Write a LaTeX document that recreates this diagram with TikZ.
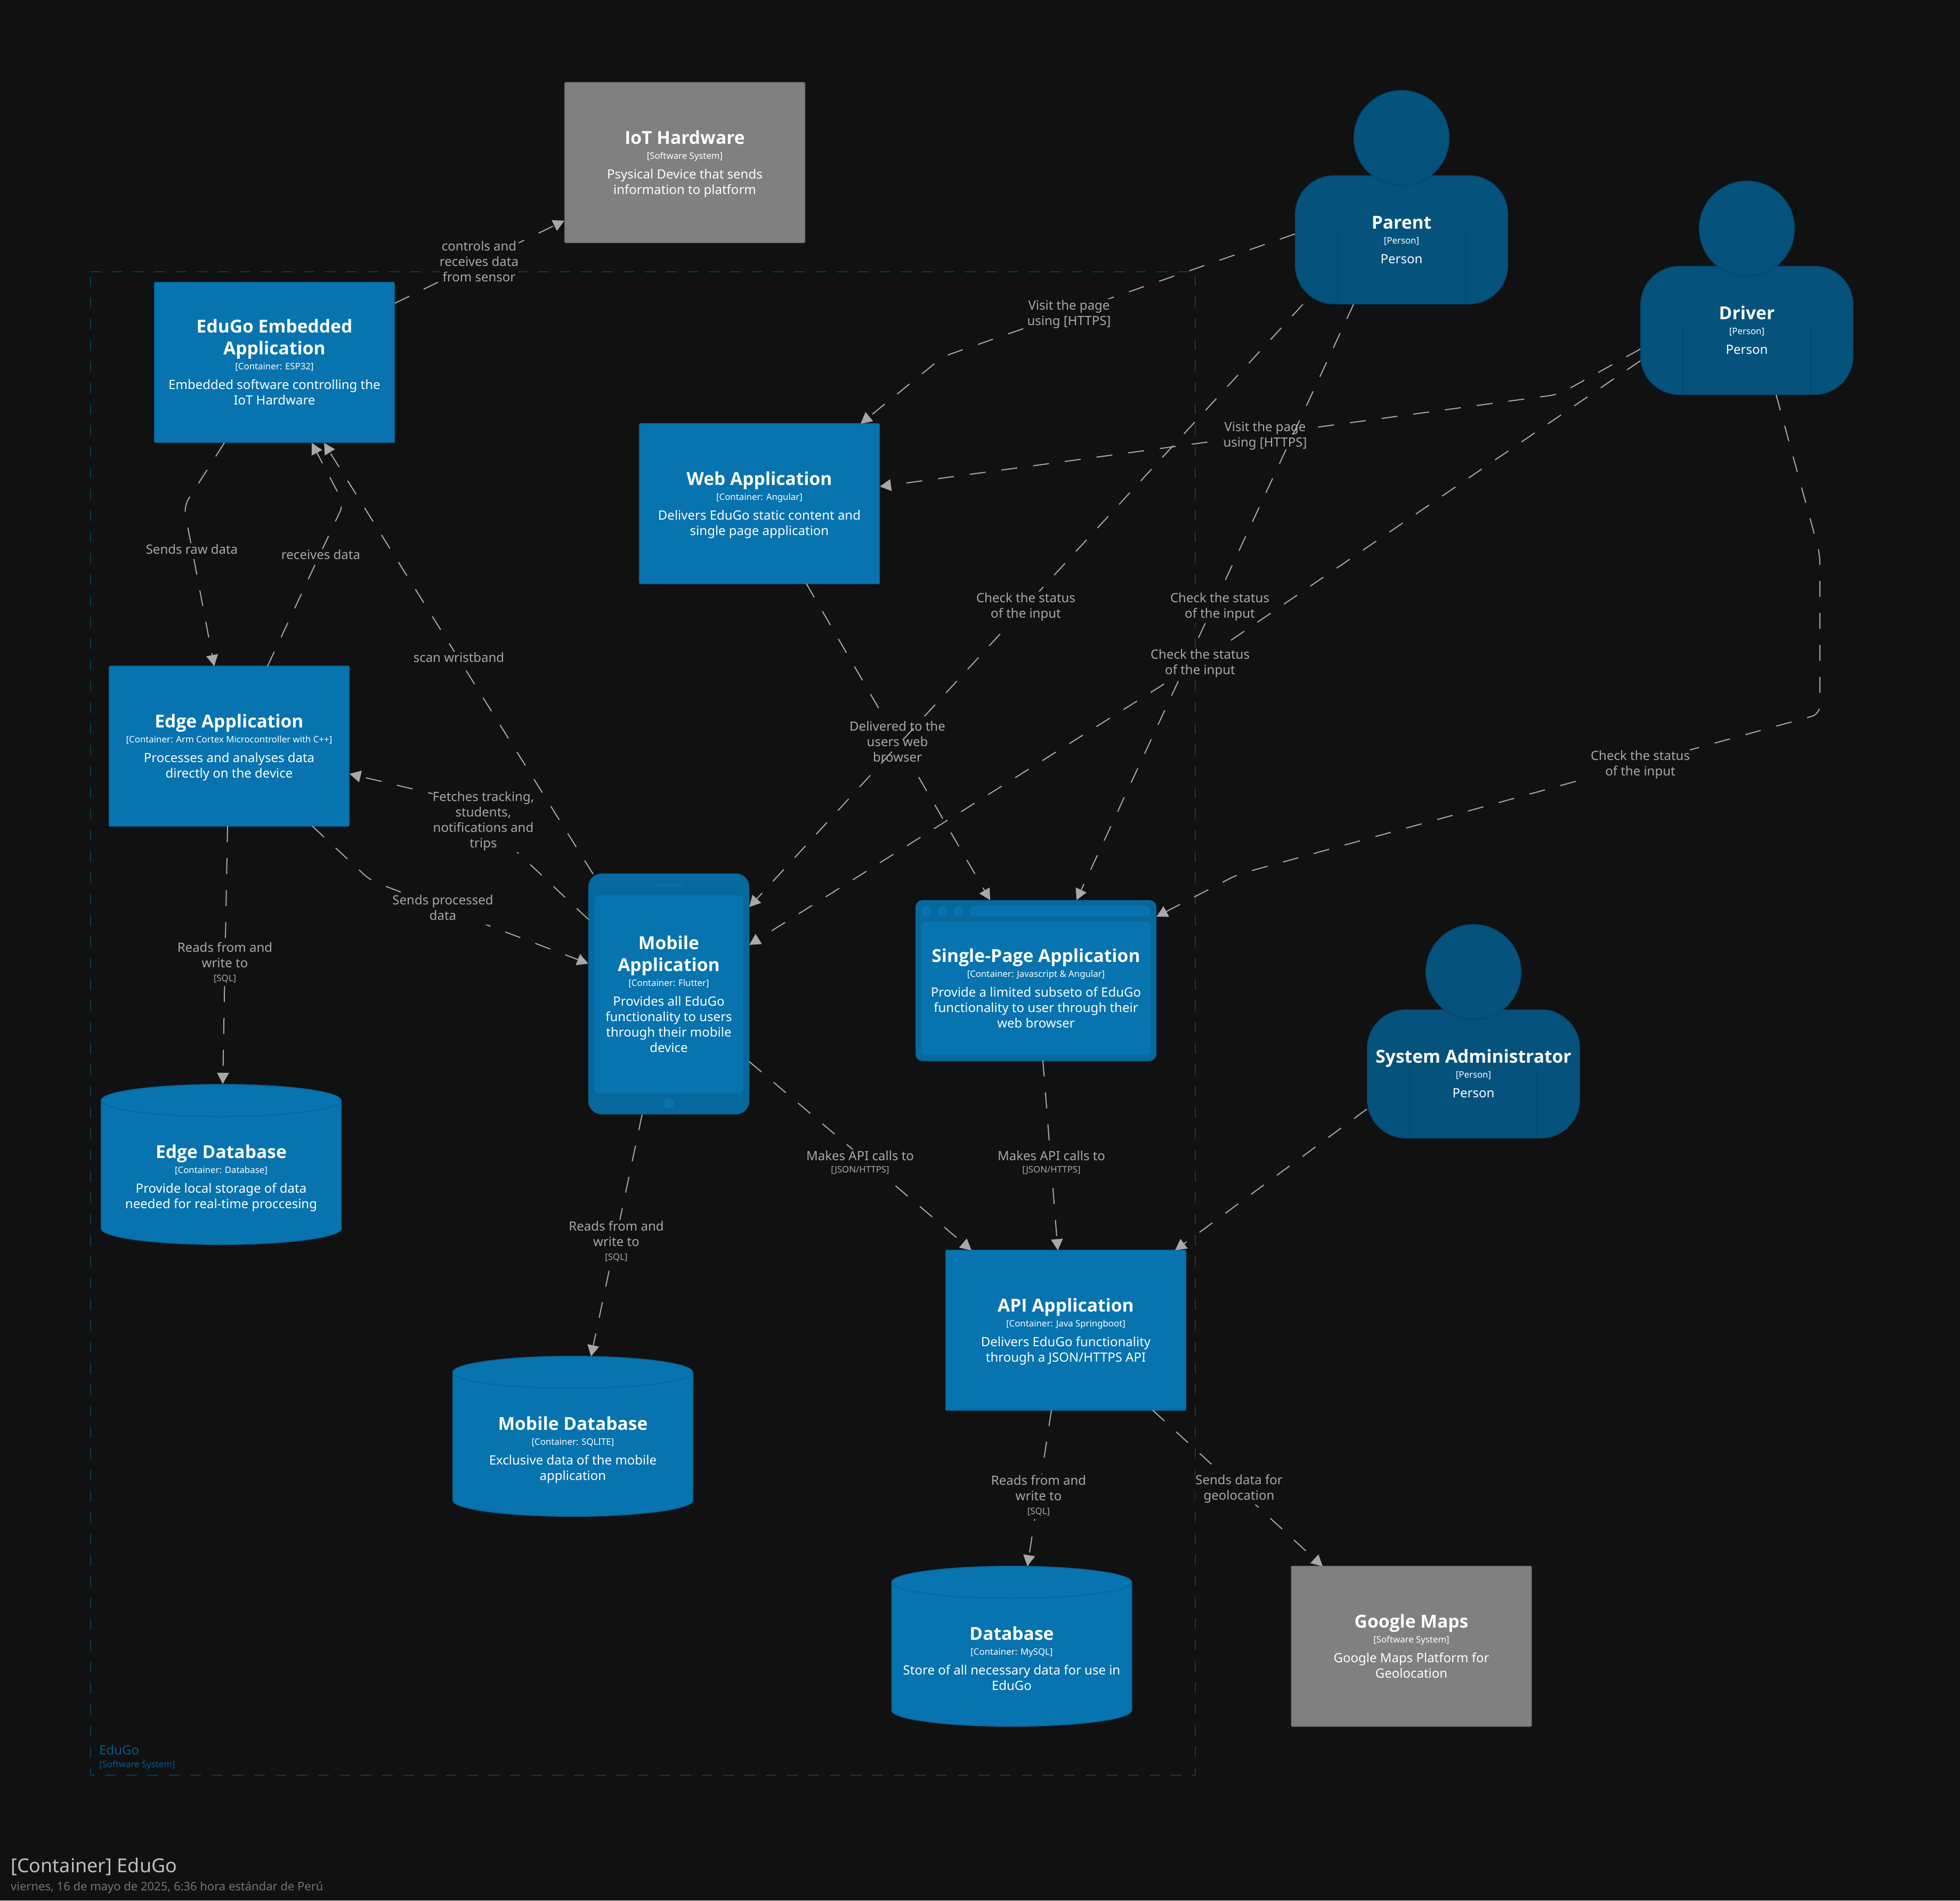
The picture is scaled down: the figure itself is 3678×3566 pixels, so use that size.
\documentclass[tikz,border=0pt]{standalone}
\usepackage{fontspec}
\setmainfont{Noto Sans}
\newfontfamily\namefam{Open Sans}
\usetikzlibrary{arrows.meta,calc}
\definecolor{bgc}{HTML}{111111}
\definecolor{contc}{HTML}{0773AF}
\definecolor{contd}{HTML}{06689D}
\definecolor{persc}{HTML}{05527D}
\definecolor{persd}{HTML}{044A70}
\definecolor{grayc}{HTML}{808080}
\definecolor{grayd}{HTML}{737373}
\definecolor{edgec}{HTML}{A8A8A8}
\definecolor{boundc}{HTML}{0A3A57}
\definecolor{boundt}{HTML}{065A8A}
\newcommand{\nmf}{\namefam\fontsize{33.6}{41}\selectfont\bfseries}
\newcommand{\tyf}{\fontsize{16.8}{29}\selectfont}
\newcommand{\dsf}{\fontsize{24}{29}\selectfont}
\newcommand{\cont}[3]{{\nmf\vrule height 30pt depth 0pt width 0pt #1\par}\vspace{-1pt}{\tyf #2\par}\vspace{8pt}{\dsf #3\vrule height 0pt depth 6pt width 0pt\par}}
\newcommand{\lst}{\vrule height 20pt depth 9pt width 0pt}
\newcommand{\tech}[1]{{\fontsize{16.8}{24}\selectfont #1}}
\tikzset{
  box/.style={rectangle,draw=contd,fill=contc,line width=2pt,minimum width=450pt,minimum height=300pt,
    text width=440pt,inner sep=0pt,outer sep=0pt,align=flush center,text=white,rounded corners=2pt},
  graybox/.style={box,draw=grayd,fill=grayc},
  anchorbox/.style={rectangle,minimum width=452pt,minimum height=302pt,inner sep=0pt,outer sep=0pt},
  boxtext/.style={text width=440pt,inner sep=0pt,outer sep=0pt,align=flush center,text=white},
  dbshape/.style={draw=contd,fill=contc,line width=2pt},
  persbody/.style={rectangle,draw=persd,fill=persc,line width=2pt,minimum width=398pt,minimum height=240pt,
    text width=390pt,inner sep=0pt,outer sep=0pt,align=flush center,text=white,rounded corners=72pt},
  pershead/.style={circle,draw=persd,fill=persc,line width=2pt,minimum size=178pt,inner sep=0pt,outer sep=0pt},
  persline/.style={draw=persd,line width=1.5pt},
  devouter/.style={rectangle,draw=contd,fill=contd,line width=2pt,inner sep=0pt,outer sep=0pt},
  devscreen/.style={rectangle,fill=contc,inner sep=0pt,outer sep=0pt,rounded corners=8pt},
  devdot/.style={circle,fill=contc,minimum size=20pt,inner sep=0pt,outer sep=0pt},
  devbar/.style={rectangle,fill=contc,inner sep=0pt,outer sep=0pt,rounded corners=9pt},
  rel/.style={draw=edgec,line width=2pt,dash pattern=on 30pt off 30pt,rounded corners=16pt,
    -{Triangle[length=21pt,width=22pt,fill=edgec]}},
  lbl/.style={fill=bgc,text=edgec,inner sep=0pt,outer sep=0pt,align=center,yshift=-3pt,font=\fontsize{24}{29}\selectfont},
  boundary/.style={draw=boundc,line width=2pt,dash pattern=on 20pt off 20pt},
}
\newcommand{\personshape}[4]{%
  \node[persbody] (#1) at (#2,#3) {\cont{#4}{[Person]}{Person}};
  \draw[persline] ($(#1)+(-120,-14)$) -- ($(#1)+(-120,121)$);
  \draw[persline] ($(#1)+(120,-14)$) -- ($(#1)+(120,121)$);
  \node[pershead] (#1-head) at ($(#1)+(0,-191)$) {};
}
\newcommand{\dbnode}[6]{%
  \begin{scope}[shift={(#2,#3)}]
    \path[dbshape] (-225,-120) .. controls (-225,-136.6) and (-124,-150) .. (0,-150)
      .. controls (124,-150) and (225,-136.6) .. (225,-120) -- (225,120)
      .. controls (225,136.6) and (124,150) .. (0,150)
      .. controls (-124,150) and (-225,136.6) .. (-225,120) -- cycle;
    \draw[draw=contd,line width=2pt] (-225,-120) .. controls (-225,-103.4) and (-124,-90) .. (0,-90)
      .. controls (124,-90) and (225,-103.4) .. (225,-120);
  \end{scope}
  \node[anchorbox] (#1) at (#2,#3) {};
  \node[boxtext] (#1-text) at ($(#1)+(0,23)$) {\cont{#4}{#5}{#6}};
}
\begin{document}
\begin{tikzpicture}[x=1pt,y=-1pt]
\useasboundingbox (0,0) rectangle (3678,3566);
\fill[bgc] (0,0) rectangle (3678,3566);

% boundary
\draw[boundary] (170,510) -- (2243,510) -- (2243,3331) -- (170,3331) -- cycle;
\node[anchor=base west,inner sep=0pt,text=boundt,font=\fontsize{24}{29}\selectfont] (bname) at (186,3292) {EduGo};
\node[anchor=base west,inner sep=0pt,text=boundt,font=\fontsize{16.8}{22}\selectfont] (btype) at (186,3316) {[Software System]};

% title
\node[anchor=base west,inner sep=0pt,text=black!25!white,font=\fontsize{36}{40}\selectfont] (title) at (20,3513) {[Container] EduGo};
\node[anchor=base west,inner sep=0pt,text=black!55!white,font=\fontsize{22}{28}\selectfont] (date) at (20,3547) {viernes, 16 de mayo de 2025, 6:36 hora estándar de Perú};

% plain boxes
\node[graybox] (iot) at (1285,305) {\cont{IoT Hardware}{[Software System]}{Psysical Device that sends\\information to platform}};
\node[box] (embedded) at (515,680) {\cont{EduGo Embedded\\Application}{[Container: ESP32]}{Embedded software controlling the\\IoT Hardware}};
\node[box] (web) at (1425,945) {\cont{Web Application}{[Container: Angular]}{Delivers EduGo static content and\\single page application}};
\node[box] (edge) at (430,1400) {\cont{Edge Application}{[Container: Arm Cortex Microcontroller with C++]}{Processes and analyses data\\directly on the device}};
\node[box] (api) at (2000,2496) {\cont{API Application}{[Container: Java Springboot]}{Delivers EduGo functionality\\through a JSON/HTTPS API}};
\node[graybox] (gmaps) at (2648.5,3089) {\cont{Google Maps}{[Software System]}{Google Maps Platform for\\Geolocation}};

% databases
\dbnode{edgedb}{415}{2185}{Edge Database}{[Container: Database]}{Provide local storage of data\\needed for real-time proccesing}
\dbnode{mobiledb}{1075}{2695}{Mobile Database}{[Container: SQLITE]}{Exclusive data of the mobile\\application}
\dbnode{db}{1898.5}{3089}{Database}{[Container: MySQL]}{Store of all necessary data for use in\\EduGo}

% mobile device
\node[devouter,minimum width=300pt,minimum height=450pt,rounded corners=24pt] (mobile) at (1255,1865) {};
\node[devscreen,minimum width=280pt,minimum height=371pt] (mobile-screen) at (1255,1865.5) {};
\node[boxtext,text width=270pt] (mobile-text) at (1255,1865.5)
  {\cont{Mobile\\Application}{[Container: Flutter]}{Provides all EduGo\\functionality to users\\through their mobile\\device}};
\node[devbar,minimum width=50pt,minimum height=3pt,rounded corners=0pt] (mobile-speaker) at (1255,1660) {};
\node[devdot] (mobile-button) at (1255,2070) {};

% browser window
\node[devouter,minimum width=450pt,minimum height=300pt,rounded corners=12pt] (spa) at (1944,1840) {};
\node[devscreen,minimum width=430pt,minimum height=250pt] (spa-screen) at (1944,1855) {};
\node[boxtext,text width=425pt] (spa-text) at (1944,1855)
  {\cont{Single-Page Application}{[Container: Javascript \& Angular]}{Provide a limited subseto of EduGo\\functionality to user through their\\web browser}};
\node[devdot] (spa-dot1) at (1739,1710) {};
\node[devdot] (spa-dot2) at (1769,1710) {};
\node[devdot] (spa-dot3) at (1799,1710) {};
\node[devbar,minimum width=340pt,minimum height=20pt] (spa-bar) at (1989,1710) {};

% people
\personshape{parent}{2630}{450}{Parent}
\personshape{driver}{3278}{620}{Driver}
\personshape{admin}{2765}{2015}{System Administrator}

% relationships
\draw[rel] ($(embedded)+(226,-111)$) -- ($(iot)+(-226,109)$);
\node[lbl] (l-ctrl) at (899,491) {\lst controls and\\\lst receives data\\\lst from sensor};

\draw[rel] ($(parent)+(-200,-11)$) -- (1770,669) -- ($(web)+(190,-150)$);
\node[lbl] (l-visit1) at (2006,587) {\lst Visit the page\\\lst using [HTTPS]};

\draw[rel] ($(driver)+(-200,35)$) -- (2925,740) -- ($(web)+(226,-32)$);
\node[lbl] (l-visit2) at (2374,815.5) {\lst Visit the page\\\lst using [HTTPS]};

\draw[rel] ($(web)+(88,150)$) -- ($(spa)+(-86,-151)$);
\node[lbl] (l-deliv) at (1684,1392) {\lst Delivered to the\\\lst users web\\\lst browser};

\draw[rel] ($(parent)+(-90,121)$) -- ($(spa)+(76,-151)$);
\node[lbl] (l-check2) at (2289,1136) {\lst Check the status\\\lst of the input};

\draw[rel] ($(parent)+(-185,121)$) -- ($(mobile)+(151,-163)$);
\node[lbl] (l-check1) at (1925,1136) {\lst Check the status\\\lst of the input};

\draw[rel] ($(driver)+(-200,57)$) -- (2252,1241) -- ($(mobile)+(151,-92)$);
\node[lbl] (l-check3) at (2252,1242) {\lst Check the status\\\lst of the input};

\draw[rel] ($(driver)+(55,121)$) -- (3415,1040) -- (3415,1340) -- (2322,1641) -- ($(spa)+(226,-120)$);
\node[lbl] (l-check4) at (3078,1432) {\lst Check the status\\\lst of the input};

\draw[rel] ($(embedded)+(-94,151)$) -- (345,950) -- ($(edge)+(-28,-150)$);
\node[lbl] (l-raw) at (360,1031) {\lst Sends raw data};

\draw[rel] ($(edge)+(72,-150)$) -- (645,945) -- ($(embedded)+(70,151)$);
\node[lbl] (l-recv) at (602,1041) {\lst receives data};

\draw[rel] ($(mobile)+(-142,-225)$) -- ($(embedded)+(93,151)$);
\node[lbl] (l-scan) at (861,1234) {\lst scan wristband};

\draw[rel] ($(mobile)+(-151,-140)$) -- (869,1503) -- ($(edge)+(226,52)$);
\node[lbl] (l-fetch) at (907,1538) {\lst Fetches tracking,\\\lst students,\\\lst notifications and\\\lst trips};

\draw[rel] ($(edge)+(156,150)$) -- (695,1652) -- ($(mobile)+(-151,-57)$);
\node[lbl] (l-proc) at (831,1703) {\lst Sends processed\\\lst data};

\draw[rel] ($(edge)+(-3,150)$) -- ($(edgedb)+(3,-151)$);
\node[lbl] (l-read1) at (422,1805) {\lst Reads from and\\\lst write to\\[-3pt]\lst\tech{[SQL]}};

\draw[rel] ($(mobile)+(-50,226)$) -- ($(mobiledb)+(34,-150)$);
\node[lbl] (l-read2) at (1156.5,2328) {\lst Reads from and\\\lst write to\\[-3pt]\lst\tech{[SQL]}};

\draw[rel] ($(mobile)+(151,127)$) -- ($(api)+(-177,-150)$);
\node[lbl] (l-api1) at (1614,2180) {\lst Makes API calls to\\[-6pt]\lst\tech{[JSON/HTTPS]}};

\draw[rel] ($(spa)+(13,150)$) -- ($(api)+(-15,-150)$);
\node[lbl] (l-api2) at (1973,2180) {\lst Makes API calls to\\[-6pt]\lst\tech{[JSON/HTTPS]}};

\draw[rel] ($(api)+(-27,150)$) -- ($(db)+(29.5,-150)$);
\node[lbl] (l-read3) at (1949,2805) {\lst Reads from and\\\lst write to\\[-3pt]\lst\tech{[SQL]}};

\draw[rel] ($(api)+(163,150)$) -- ($(gmaps)+(-166.5,-150)$);
\node[lbl] (l-geo) at (2325,2791) {\lst Sends data for\\\lst geolocation};

\draw[rel] ($(admin)+(-200,66)$) -- ($(api)+(205,-150)$);
\end{tikzpicture}
\end{document}
